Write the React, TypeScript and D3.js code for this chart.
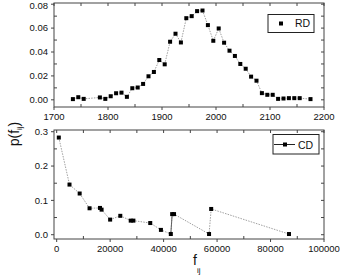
import * as d3 from 'd3'

const rdYear = [1735, 1745, 1755, 1785, 1795, 1805, 1815, 1825, 1835, 1845, 1855, 1865, 1875, 1885, 1895, 1905, 1915, 1925, 1935, 1945, 1955, 1965, 1975, 1985, 1995, 2005, 2015, 2025, 2035, 2045, 2055, 2065, 2075, 2085, 2095, 2105, 2115, 2125, 2135, 2145, 2155, 2175]
const rdP = [0.0006, 0.0022, 0.0008, 0.002, 0.0008, 0.003, 0.0055, 0.006, 0.0025, 0.0097, 0.0103, 0.0133, 0.0197, 0.0233, 0.0333, 0.0297, 0.0486, 0.0553, 0.048, 0.0683, 0.07, 0.0742, 0.0747, 0.0625, 0.0494, 0.0597, 0.0478, 0.0411, 0.0367, 0.03, 0.026, 0.0194, 0.016, 0.0056, 0.0042, 0.0042, 0.0008, 0.0011, 0.0014, 0.0014, 0.0014, 0.0006]

const cdF = [800, 4800, 8600, 12300, 16200, 16800, 20000, 23800, 27700, 28700, 35000, 39000, 42700, 43200, 43900, 57000, 57800, 86900]
const cdP = [0.283, 0.146, 0.12, 0.077, 0.078, 0.073, 0.044, 0.055, 0.041, 0.041, 0.034, 0.014, 0.002, 0.06, 0.06, 0.002, 0.075, 0.002]

const topXTicks = [1700, 1800, 1900, 2000, 2100, 2200]
const topYTicks = [0, 0.02, 0.04, 0.06, 0.08]
const botXTicks = [0, 20000, 40000, 60000, 80000, 100000]
const botYTicks = [0, 0.1, 0.2, 0.3]

const FONT = "'Liberation Sans', Arial, sans-serif"
const AX = '#444'

type PanelProps = {
  xs: d3.ScaleLinear<number, number>
  ys: d3.ScaleLinear<number, number>
  xTicks: number[]
  xMinor: number[]
  yTicks: number[]
  yMinor: number[]
  xFmt: (v: number) => string
  yFmt: (v: number) => string
  xs0: number[]
  ys0: number[]
  solid?: number[] // index of segment start drawn solid
}

function Panel({ xs, ys, xTicks, xMinor, yTicks, yMinor, xFmt, yFmt, xs0, ys0, solid = [] }: PanelProps) {
  const [x0, x1] = xs.range()
  const [y1, y0] = ys.range()
  const line = d3.line<number>().x((_, i) => xs(xs0[i])).y(d => ys(d))
  return (
    <g>
      <rect x={x0} y={y0} width={x1 - x0} height={y1 - y0} fill="none" stroke={AX} strokeWidth={1} />
      {xTicks.map(t => (
        <g key={'xt' + t}>
          <line x1={xs(t)} x2={xs(t)} y1={y1} y2={y1 + 3} stroke={AX} />
          <line x1={xs(t)} x2={xs(t)} y1={y0} y2={y0 + 3} stroke={AX} />
          <text x={xs(t)} y={y1 + 13} textAnchor="middle" fontSize={9.5} fontFamily={FONT} fill="#111">{xFmt(t)}</text>
        </g>
      ))}
      {xMinor.map(t => (
        <g key={'xm' + t}>
          <line x1={xs(t)} x2={xs(t)} y1={y1} y2={y1 - 3} stroke={AX} />
          <line x1={xs(t)} x2={xs(t)} y1={y0} y2={y0 + 3} stroke={AX} />
        </g>
      ))}
      {yTicks.map(t => (
        <g key={'yt' + t}>
          <line x1={x0} x2={x0 - 3} y1={ys(t)} y2={ys(t)} stroke={AX} />
          <line x1={x1} x2={x1 - 3} y1={ys(t)} y2={ys(t)} stroke={AX} />
          <text x={x0 - 6} y={Math.max(ys(t) + 3.3, 8.5)} textAnchor="end" fontSize={9.5} fontFamily={FONT} fill="#111">{yFmt(t)}</text>
        </g>
      ))}
      {yMinor.map(t => (
        <g key={'ym' + t}>
          <line x1={x0} x2={x0 + 3} y1={ys(t)} y2={ys(t)} stroke={AX} />
          <line x1={x1} x2={x1 - 3} y1={ys(t)} y2={ys(t)} stroke={AX} />
        </g>
      ))}
      <path d={line(ys0) ?? ''} fill="none" stroke="#888" strokeWidth={0.8} strokeDasharray="1.5,1.2" />
      {solid.map(i => (
        <line key={'s' + i} x1={xs(xs0[i])} x2={xs(xs0[i + 1])} y1={ys(ys0[i])} y2={ys(ys0[i + 1])} stroke="#555" strokeWidth={0.9} />
      ))}
      {ys0.map((v, i) => (
        <rect key={i} x={xs(xs0[i]) - 2} y={ys(v) - 2} width={4} height={4} fill="#000" />
      ))}
    </g>
  )
}

export default function App() {
  const xTop = d3.scaleLinear().domain([1700, 2200]).range([54, 324])
  const yTop = d3.scaleLinear().domain([-0.006, 0.081]).range([107, 3])
  const xBot = d3.scaleLinear().domain([-1000, 100000]).range([54, 324])
  const yBot = d3.scaleLinear().domain([-0.0125, 0.305]).range([239, 130])

  const topXMinor = d3.range(1750, 2200, 100)
  const topYMinor = [0.01, 0.03, 0.05, 0.07]
  const botXMinor = d3.range(10000, 100000, 20000)
  const botYMinor = [0.05, 0.15, 0.25]

  return (
    <svg width={360} height={276} style={{ position: 'absolute', left: 0, top: 0, background: '#fff' }}>
      <Panel xs={xTop} ys={yTop} xTicks={topXTicks} xMinor={topXMinor} yTicks={topYTicks} yMinor={topYMinor}
        xFmt={v => String(v)} yFmt={v => v.toFixed(2)} xs0={rdYear} ys0={rdP} />
      <Panel xs={xBot} ys={yBot} xTicks={botXTicks} xMinor={botXMinor} yTicks={botYTicks} yMinor={botYMinor}
        xFmt={v => String(v)} yFmt={v => v.toFixed(1)} xs0={cdF} ys0={cdP} solid={[12]} />

      {/* legends */}
      <rect x={268} y={14.5} width={46} height={18} fill="#fff" stroke="#222" />
      <rect x={279} y={21.5} width={4} height={4} fill="#000" />
      <text x={295} y={27} fontSize={10.5} fontFamily={FONT} fill="#111">RD</text>

      <rect x={273} y={134.5} width={46} height={19.5} fill="#fff" stroke="#222" />
      <line x1={274} x2={295} y1={144.5} y2={144.5} stroke="#222" />
      <rect x={283} y={142.5} width={4} height={4} fill="#000" />
      <text x={298} y={148.5} fontSize={10.5} fontFamily={FONT} fill="#111">CD</text>

      {/* axis titles */}
      <text transform="translate(19,134) rotate(-90)" textAnchor="middle" fontSize={14} fontFamily={FONT} fill="#111">
        p(f<tspan fontSize={8} dy={3}>ij</tspan><tspan dy={-3}>)</tspan>
      </text>
      <text x={193} y={265} fontSize={14} fontFamily={FONT} fill="#111">
        f<tspan fontSize={8} dy={8}>ij</tspan>
      </text>
    </svg>
  )
}
